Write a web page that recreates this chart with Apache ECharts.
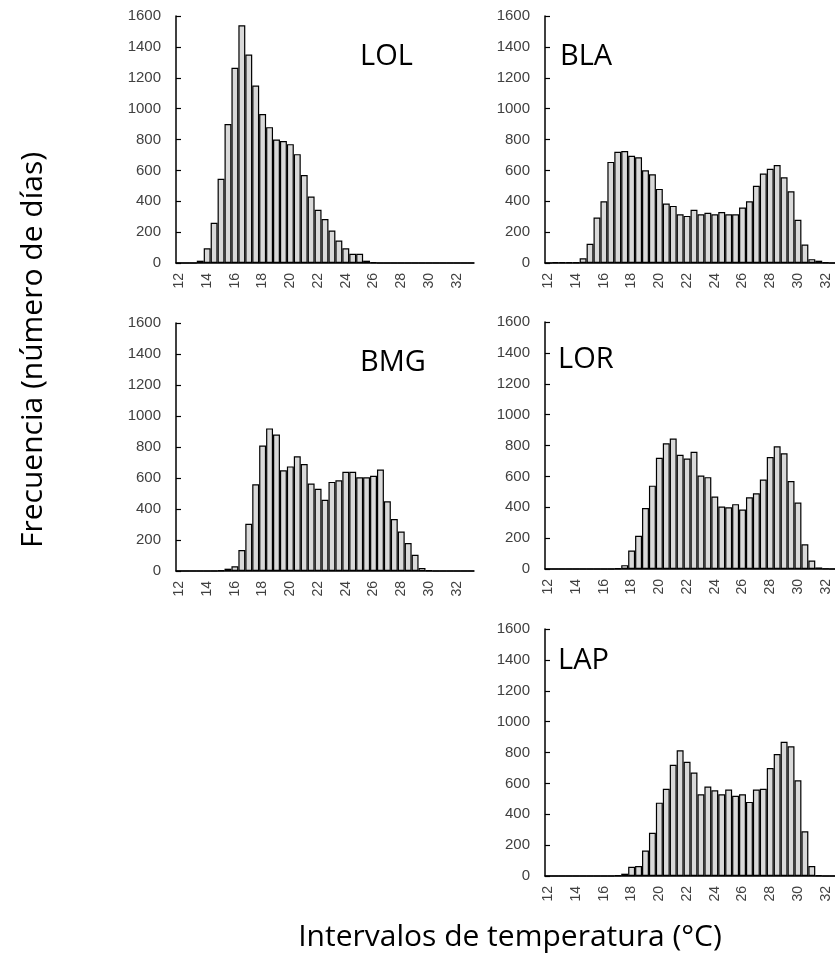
<!DOCTYPE html>
<html>
<head>
<meta charset="utf-8">
<script src="https://cdn.jsdelivr.net/npm/echarts@6/dist/echarts.min.js"></script>
<style>
    html, body { margin: 0; padding: 0; background: #fff; overflow: hidden; }
    #chart { width: 860px; height: 968px; }
</style>
</head>
<body>
<div id="chart"></div>
<script>
// 温度区间 (°C), 每 0.5 一档
var categories = ['12', '12.5', '13', '13.5', '14', '14.5', '15', '15.5', '16', '16.5',
    '17', '17.5', '18', '18.5', '19', '19.5', '20', '20.5', '21', '21.5',
    '22', '22.5', '23', '23.5', '24', '24.5', '25', '25.5', '26', '26.5',
    '27', '27.5', '28', '28.5', '29', '29.5', '30', '30.5', '31', '31.5',
    '32', '32.5', '33'];

var lolValues = [0, 0, 0, 15, 95, 260, 545, 900, 1265, 1540,
    1350, 1150, 965, 880, 800, 790, 770, 705, 570, 430,
    345, 285, 210, 145, 95, 60, 60, 15, 5, 0,
    0, 0, 0, 0, 0, 0, 0, 0, 0, 0,
    0, 0, 0];

var blaValues = [0, 5, 5, 5, 5, 30, 125, 295, 400, 655,
    720, 725, 695, 685, 600, 575, 480, 385, 370, 315,
    305, 345, 315, 325, 315, 330, 315, 315, 360, 400,
    500, 580, 610, 635, 555, 465, 280, 120, 25, 15,
    5, 0, 0];

var bmgValues = [0, 0, 0, 0, 0, 0, 5, 15, 30, 135,
    305, 560, 810, 920, 880, 650, 675, 740, 690, 565,
    530, 460, 575, 585, 640, 640, 605, 605, 615, 655,
    450, 335, 255, 180, 105, 20, 5, 0, 0, 0,
    0, 0, 0];

var lorValues = [0, 0, 0, 0, 0, 0, 0, 0, 0, 0,
    5, 25, 120, 215, 395, 540, 720, 815, 845, 740,
    715, 760, 605, 595, 470, 405, 400, 420, 385, 465,
    490, 580, 725, 795, 750, 570, 430, 160, 55, 10,
    3, 0, 0];

var lapValues = [0, 0, 0, 0, 0, 0, 0, 0, 0, 0,
    5, 15, 60, 65, 165, 280, 475, 565, 720, 815,
    740, 670, 530, 580, 555, 530, 560, 520, 530, 480,
    560, 565, 700, 790, 870, 840, 620, 290, 65, 5,
    0, 0, 0];

var panelNames = ['LOL', 'BLA', 'BMG', 'LOR', 'LAP'];
var yTicks = [0, 200, 400, 600, 800, 1000, 1200, 1400, 1600];

/**
 * 初始化直方图
 */
function histogramChart() {
    var myChart = echarts.init(document.getElementById('chart'));
    var seriesData = [lolValues, blaValues, bmgValues, lorValues, lapValues];
    var grids = [
        {left: 176, top: 16, width: 298, height: 247},
        {left: 545, top: 16, width: 298, height: 247},
        {left: 176, top: 323, width: 298, height: 248},
        {left: 545, top: 322, width: 298, height: 247},
        {left: 545, top: 629, width: 298, height: 247}
    ];
    // 面板名称位置
    var namePos = [
        {left: 355, top: 37},
        {left: 555, top: 37},
        {left: 355, top: 343},
        {left: 553, top: 340},
        {left: 553, top: 641}
    ];
    var xAxes = [], yAxes = [], series = [], titles = [];
    for (var i = 0; i < 5; i++) {
        xAxes.push({
            type: 'category',
            gridIndex: i,
            data: categories,
            boundaryGap: true,
            axisLine: {lineStyle: {color: '#000', width: 1.5}},
            axisTick: {show: false},
            axisLabel: {
                interval: 3,
                rotate: 90,
                fontSize: 14,
                color: '#404040',
                margin: 10,
                fontFamily: 'Liberation Sans'
            }
        });
        yAxes.push({
            type: 'value',
            gridIndex: i,
            min: yTicks[0],
            max: yTicks[yTicks.length - 1],
            interval: 200,
            axisLine: {show: true, lineStyle: {color: '#000', width: 1.5}},
            axisTick: {show: true, inside: true, length: 5, lineStyle: {color: '#000', width: 1.2}},
            splitLine: {show: false},
            axisLabel: {
                fontSize: 15,
                color: '#404040',
                margin: 15,
                fontFamily: 'Liberation Sans',
                formatter: function (v) {
                    return String(v);
                }
            }
        });
        series.push({
            type: 'bar',
            xAxisIndex: i,
            yAxisIndex: i,
            data: seriesData[i],
            barCategoryGap: '0%',
            itemStyle: {color: '#d9d9d9', borderColor: '#000', borderWidth: 1.2},
            silent: true
        });
        titles.push({
            text: panelNames[i],
            left: namePos[i].left,
            top: namePos[i].top,
            textStyle: {fontSize: 29, fontWeight: 'normal', color: '#000', fontFamily: 'Open Sans'}
        });
    }
    titles.push({
        text: 'Intervalos de temperatura (°C)',
        left: 505,
        top: 917,
        textAlign: 'center',
        textStyle: {fontSize: 30, fontWeight: 'normal', color: '#000', fontFamily: 'Open Sans'}
    });
    var option = {
        animation: false,
        title: titles,
        grid: grids,
        xAxis: xAxes,
        yAxis: yAxes,
        series: series,
        graphic: [{
            type: 'text',
            x: 18,
            y: 350,
            rotation: Math.PI / 2,
            style: {
                text: 'Frecuencia (número de días)',
                fontSize: 30,
                fontFamily: 'Open Sans',
                fill: '#000',
                textAlign: 'center',
                textVerticalAlign: 'top'
            }
        }]
    };
    myChart.setOption(option, true);
}

histogramChart();
</script>
</body>
</html>
